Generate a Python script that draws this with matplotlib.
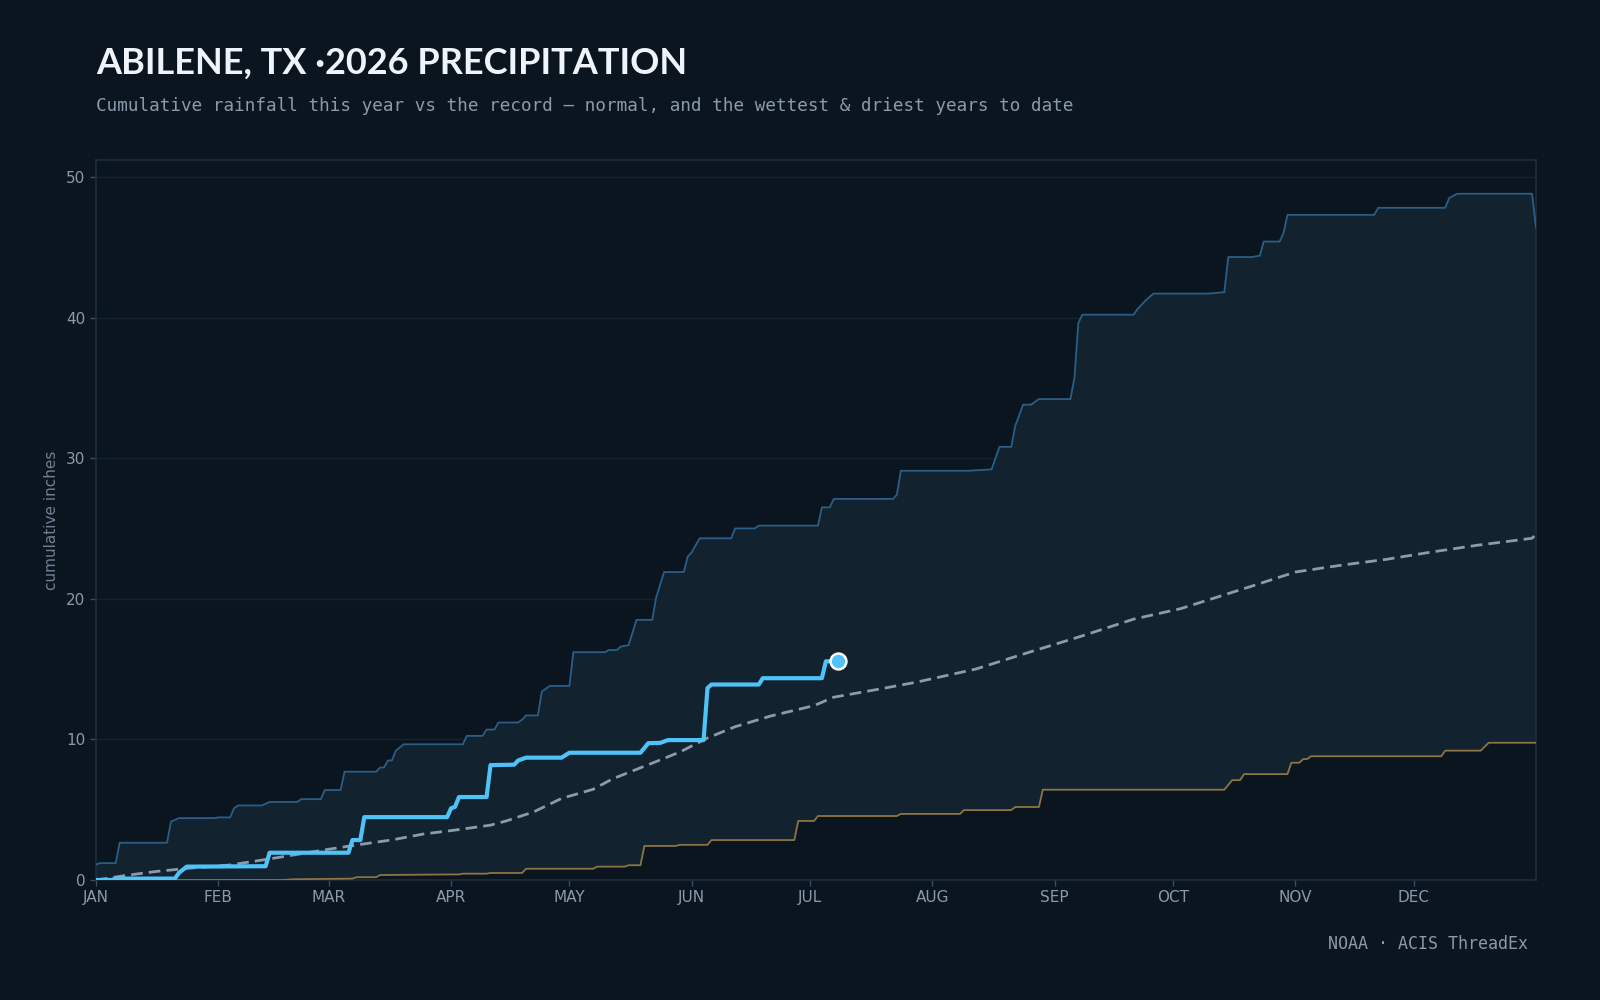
import numpy as np
import matplotlib
matplotlib.use("Agg")
import matplotlib.pyplot as plt

# =============================================================
# Daten (Tag im Jahr, kumulierter Niederschlag in Zoll)
# =============================================================
month_starts = [0, 31, 59, 90, 120, 151, 181, 212, 243, 273, 304, 334]
month_labels = ["JAN", "FEB", "MAR", "APR", "MAY", "JUN",
                "JUL", "AUG", "SEP", "OCT", "NOV", "DEC"]

wettest_days = [0, 1, 5, 6, 18, 19, 21, 30, 31, 34, 35, 36, 42, 44, 51, 52, 57, 58, 62, 63,
                71, 72, 73, 74, 75, 76, 78, 93, 94, 98, 99, 101, 102, 107, 108, 109, 112, 113,
                115, 120, 121, 129, 130, 132, 133, 135, 136, 137, 141, 142, 144, 149, 150, 151,
                153, 161, 162, 167, 168, 183, 184, 186, 187, 202, 203, 204, 221, 227, 229, 232,
                233, 235, 237, 239, 247, 248, 249, 250, 263, 264, 266, 268, 282, 286, 287, 293,
                295, 296, 300, 301, 302, 324, 325, 342, 343, 345, 364, 365]
wettest_vals = [1.1, 1.2, 1.2, 2.65, 2.65, 4.15, 4.4, 4.4, 4.45, 4.45, 5.1, 5.3, 5.3, 5.55, 5.55,
                5.75, 5.75, 6.4, 6.4, 7.7, 7.7, 8.0, 8.0, 8.5, 8.5, 9.2, 9.65, 9.65, 10.25, 10.25,
                10.7, 10.7, 11.2, 11.2, 11.4, 11.7, 11.7, 13.4, 13.8, 13.8, 16.2, 16.2, 16.35,
                16.35, 16.6, 16.7, 17.6, 18.5, 18.5, 20.1, 21.9, 21.9, 23.0, 23.3, 24.3, 24.3,
                25.0, 25.0, 25.2, 25.2, 26.5, 26.5, 27.1, 27.1, 27.4, 29.1, 29.1, 29.2, 30.8,
                30.8, 32.3, 33.8, 33.8, 34.2, 34.2, 35.7, 39.6, 40.2, 40.2, 40.6, 41.2, 41.7,
                41.7, 41.8, 44.3, 44.3, 44.4, 45.4, 45.4, 46.0, 47.3, 47.3, 47.8, 47.8, 48.5,
                48.8, 48.8, 46.4]

driest_days = [0, 47, 50, 65, 66, 71, 72, 83, 92, 93, 99, 100, 108, 109, 126, 127, 134, 135,
               138, 139, 147, 148, 155, 156, 177, 178, 182, 183, 203, 204, 219, 220, 232, 233,
               239, 240, 286, 288, 290, 291, 302, 303, 305, 306, 307, 308, 341, 342, 351, 353, 365]
driest_vals = [0.0, 0.0, 0.05, 0.1, 0.2, 0.2, 0.35, 0.38, 0.4, 0.45, 0.45, 0.5, 0.5, 0.8, 0.8,
               0.95, 0.95, 1.05, 1.05, 2.42, 2.42, 2.5, 2.5, 2.84, 2.84, 4.2, 4.2, 4.55, 4.55,
               4.7, 4.7, 4.97, 4.97, 5.19, 5.19, 6.42, 6.42, 7.1, 7.1, 7.53, 7.53, 8.34, 8.34,
               8.6, 8.6, 8.8, 8.8, 9.2, 9.2, 9.76, 9.76]

normal_days = [0, 7, 15, 24, 34, 44, 57, 66, 75, 83, 91, 100, 104, 111, 118, 126, 131, 140,
               148, 155, 162, 171, 182, 187, 199, 208, 223, 236, 250, 263, 275, 293, 304, 316,
               327, 338, 350, 364, 365]
normal_vals = [0.0, 0.3, 0.6, 0.85, 1.07, 1.5, 2.1, 2.49, 2.85, 3.27, 3.55, 3.9, 4.2, 4.85,
               5.8, 6.45, 7.2, 8.2, 9.1, 10.1, 10.9, 11.66, 12.4, 13.0, 13.6, 14.07, 15.0, 16.15,
               17.36, 18.55, 19.3, 20.9, 21.9, 22.4, 22.8, 23.3, 23.8, 24.3, 24.6]

year_days = [0, 4, 5, 20, 21, 23, 43, 44, 64, 65, 67, 68, 89, 90, 91, 92, 99, 100, 106, 107,
             109, 118, 120, 138, 140, 143, 145, 154, 155, 156, 168, 169, 184, 185, 188]
year_vals = [0.0, 0.0, 0.1, 0.1, 0.5, 0.95, 0.98, 1.94, 1.94, 2.84, 2.84, 4.47, 4.47, 5.1, 5.2,
             5.9, 5.9, 8.17, 8.2, 8.5, 8.7, 8.7, 9.05, 9.05, 9.73, 9.75, 9.95, 9.95, 13.65, 13.9,
             13.9, 14.35, 14.35, 15.55, 15.55]

# Farben
BG = "#0b151f"
BAND = "#12222f"
WET = "#2a5e86"
DRY = "#8c7444"
NORMAL = "#8d9aa8"
YEAR = "#4fc3f7"
TXT = "#8a9aab"

fig = plt.figure(figsize=(16, 10), dpi=100, facecolor=BG)
ax = fig.add_axes([0.06, 0.12, 0.90, 0.72])
ax.set_facecolor(BG)

# Band zwischen trockenstem und nassestem Jahr
band_x = np.concatenate([wettest_days, driest_days[::-1]])
band_y = np.concatenate([wettest_vals, driest_vals[::-1]])
ax.fill(band_x, band_y, color=BAND, lw=0, zorder=1)

ax.plot(wettest_days, wettest_vals, color=WET, lw=1.3, zorder=3)
ax.plot(driest_days, driest_vals, color=DRY, lw=1.3, zorder=3)
ax.plot(normal_days, normal_vals, color=NORMAL, lw=2.0, dashes=(4.2, 2.2), zorder=4)
ax.plot(year_days, year_vals, color=YEAR, lw=3.0, zorder=5, solid_joinstyle="round")
ax.scatter([year_days[-1]], [year_vals[-1]], s=130, color=YEAR, edgecolor="white",
           linewidth=1.8, zorder=6)

ax.set_xlim(0, 365)
ax.set_ylim(0, 51.2)
ax.set_xticks(month_starts)
ax.set_xticklabels(month_labels)
ax.set_yticks([0, 10, 20, 30, 40, 50])
ax.grid(axis="y", color="#15283a", lw=1, alpha=0.8)
ax.set_axisbelow(True)
ax.tick_params(colors="#3a4d60", labelcolor=TXT, labelsize=11, length=4, width=1)
for sp in ax.spines.values():
    sp.set_color("#1b2e40")
    sp.set_linewidth(1.2)

ax.set_ylabel("cumulative inches", color="#6f8093", fontsize=11, labelpad=5)

fig.text(0.06, 0.937, "ABILENE, TX ·2026 PRECIPITATION", color="#eef4fa",
         fontsize=26, fontweight="bold", family="Lato", va="center", ha="left")
fig.text(0.06, 0.894, "Cumulative rainfall this year vs the record — normal, and the wettest & driest years to date",
         color=TXT, fontsize=12.7, family="DejaVu Sans Mono", va="center", ha="left")
fig.text(0.955, 0.056, "NOAA · ACIS ThreadEx", color=TXT, fontsize=12,
         family="DejaVu Sans Mono", va="center", ha="right")

fig.savefig("out.png", dpi=100, facecolor=BG)
